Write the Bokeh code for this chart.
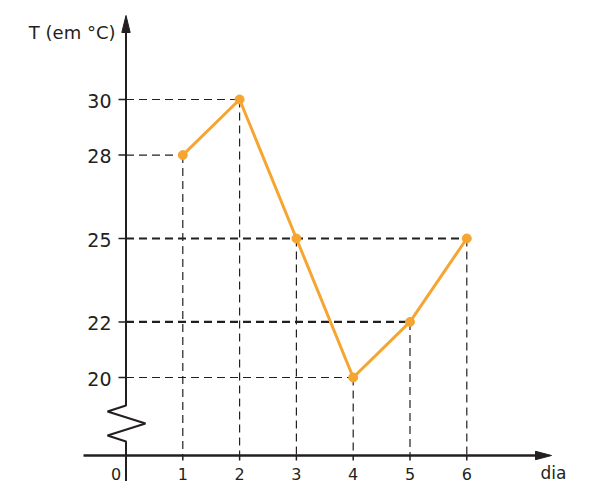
from bokeh.plotting import figure
from bokeh.models import Range1d
from bokeh.core.properties import value
from bokeh.embed import file_html
from bokeh.resources import INLINE

# ---- data ----
days = [1, 2, 3, 4, 5, 6]
temps = [28, 30, 25, 20, 22, 25]
y_ticks = [20, 22, 25, 28, 30]
y_tick_labels = ["20", "22", "25", "28", "30"]
x_ticks = [1, 2, 3, 4, 5, 6]
x_tick_labels = ["1", "2", "3", "4", "5", "6"]
origin_label = "0"
y_title = "T (em °C)"
x_title = "dia"

# ---- layout constants (pixels) ----
W, H = 579, 481
X0_PX = 125.5     # px of day 0
DX = 56.8         # px per day
Y30_PX = 99       # px of 30 °C
DY = 27.8         # px per degree
AXIS_PX = 455     # px of the (broken) horizontal axis


def tx(sx):
    """pixel x -> data x"""
    return (sx - X0_PX) / DX


def ty(sy):
    """pixel y -> data y"""
    return 30 + (Y30_PX - sy) / DY


DARK = "#231f20"
ORANGE = "#f6a531"
FONT = "DejaVu Sans"

p = figure(width=W, height=H, output_backend="svg", toolbar_location=None,
           x_range=Range1d(tx(0), tx(W)), y_range=Range1d(ty(H), ty(0)),
           x_axis_location=None, y_axis_location=None, min_border=0)
p.grid.visible = False
p.outline_line_color = None
p.background_fill_color = "white"
p.border_fill_color = "white"

AXIS_Y = ty(AXIS_PX)

# ---- guide lines ----
thick_levels = {25, 22}
for t in sorted(set(temps)):
    xmax = max(d for d, v in zip(days, temps) if v == t)
    p.segment(x0=[0], y0=[t], x1=[xmax], y1=[t], line_color=DARK,
              line_width=2.2 if t in thick_levels else 1.2, line_dash="8 5")
p.segment(x0=days, y0=temps, x1=days, y1=[AXIS_Y] * len(days),
          line_color=DARK, line_width=1.2, line_dash="8 5")

# ---- y axis with break ----
zz_x = [0, 0, tx(107), tx(145), tx(107), 0, 0]
zz_y = [ty(25), ty(405), ty(411), ty(423), ty(435), ty(441), ty(H + 5)]
p.line(zz_x, zz_y, line_color=DARK, line_width=2)
hw = 4.2 / DX
p.patch([0, -hw, hw], [ty(15), ty(32), ty(32)], color=DARK)

# ---- x axis ----
p.segment(x0=[tx(83)], y0=[AXIS_Y], x1=[tx(538)], y1=[AXIS_Y], line_color=DARK, line_width=2.5)
vh = 4.2 / DY
p.patch([tx(551), tx(535), tx(535)], [AXIS_Y, AXIS_Y + vh, AXIS_Y - vh], color=DARK)

# ticks
p.segment(x0=[tx(118)] * len(y_ticks), y0=y_ticks, x1=[0] * len(y_ticks), y1=y_ticks,
          line_color=DARK, line_width=1.5)
p.segment(x0=x_ticks, y0=[AXIS_Y] * len(x_ticks), x1=x_ticks, y1=[ty(AXIS_PX + 5)] * len(x_ticks),
          line_color=DARK, line_width=1.5)

# ---- tick labels ----
p.text(x=[tx(111)] * len(y_ticks), y=y_ticks, text=y_tick_labels,
       text_font=value(FONT), text_font_size=value("19px"), text_color=DARK,
       text_align="right", text_baseline="middle", y_offset=1)
p.text(x=x_ticks, y=[ty(473)] * len(x_ticks), text=x_tick_labels,
       text_font=value(FONT), text_font_size=value("16px"), text_color=DARK,
       text_align="center", text_baseline="alphabetic")
p.text(x=[tx(115.5)], y=[ty(473)], text=[origin_label],
       text_font=value(FONT), text_font_size=value("16px"), text_color=DARK,
       text_align="center", text_baseline="alphabetic")
p.text(x=[tx(540)], y=[ty(472)], text=[x_title],
       text_font=value(FONT), text_font_size=value("17px"), text_color=DARK,
       text_align="left", text_baseline="alphabetic")
p.text(x=[tx(115)], y=[ty(32)], text=[y_title],
       text_font=value(FONT), text_font_size=value("18px"), text_color=DARK,
       text_align="right", text_baseline="alphabetic")

# ---- data series ----
p.line(days, temps, line_color=ORANGE, line_width=3)
p.scatter(days, temps, size=9, color=ORANGE)

open("out.html", "w").write(file_html(p, INLINE))
